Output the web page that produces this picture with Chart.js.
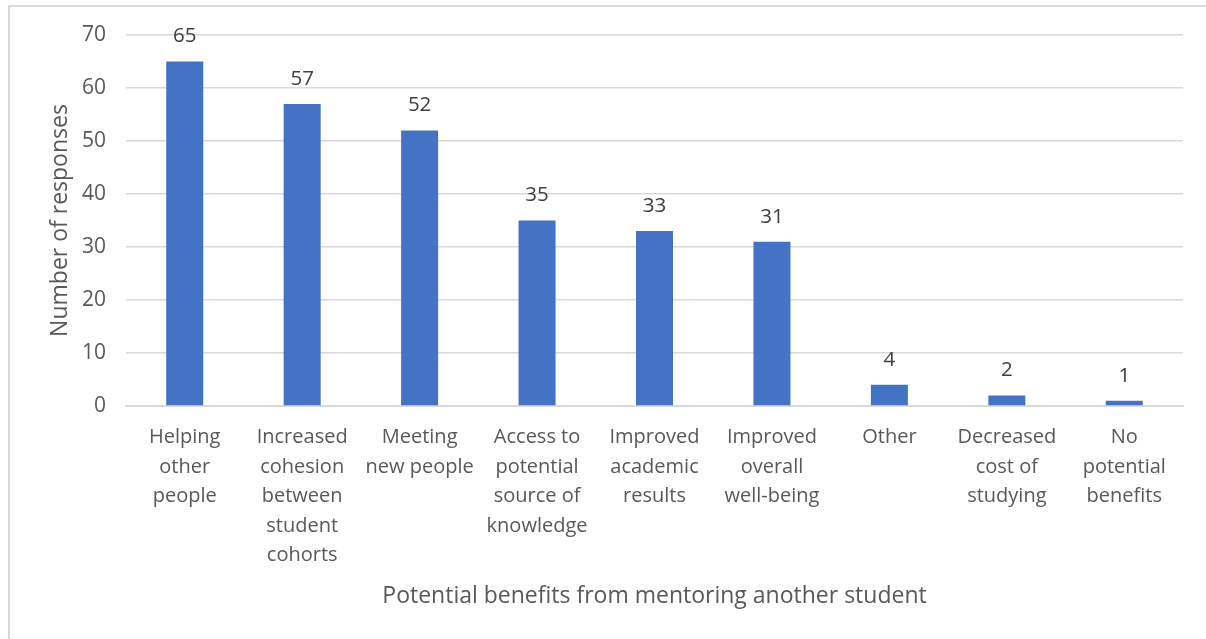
<!DOCTYPE html>
<html>
<head>
<meta charset="utf-8">
<script src="https://cdn.jsdelivr.net/npm/chart.js@4/dist/chart.umd.min.js"></script>
<style>
    html, body { margin: 0; padding: 0; background: #fff; overflow: hidden; }
    #frame {
        position: absolute; left: 8px; top: 5px;
        width: 1400px; height: 800px;
        border: 2px solid #d9d9d9; box-sizing: border-box;
    }
    #wrap { position: absolute; left: 0; top: 0; width: 1206px; height: 639px; }
</style>
</head>
<body>
<div id="frame"></div>
<div id="wrap"><canvas id="chart" width="1206" height="639"></canvas></div>
<script>
// Chart data
const categories = [
    ['Helping', 'other', 'people'],
    ['Increased', 'cohesion', 'between', 'student', 'cohorts'],
    ['Meeting', 'new people'],
    ['Access to', 'potential', 'source of', 'knowledge'],
    ['Improved', 'academic', 'results'],
    ['Improved', 'overall', 'well-being'],
    ['Other'],
    ['Decreased', 'cost of', 'studying'],
    ['No', 'potential', 'benefits']
];
const responses = [65, 57, 52, 35, 33, 31, 4, 2, 1];
const yTicks = [0, 10, 20, 30, 40, 50, 60, 70];

const textColor = '#595959';
const gridColor = '#d9d9d9';
const fontFamily = '"Open Sans", "Noto Sans", sans-serif';

// Value labels above each bar
const valueLabels = {
    id: 'valueLabels',
    afterDatasetsDraw(chart) {
        const ctx = chart.ctx;
        const meta = chart.getDatasetMeta(0);
        ctx.save();
        ctx.font = '20.5px ' + fontFamily;
        ctx.fillStyle = '#404040';
        ctx.textAlign = 'center';
        ctx.textBaseline = 'middle';
        meta.data.forEach((bar, i) => {
            ctx.fillText(String(responses[i]), bar.x, bar.y - 25);
        });
        ctx.restore();
    }
};

new Chart(document.getElementById('chart'), {
    type: 'bar',
    data: {
        labels: categories,
        datasets: [{
            data: responses,
            backgroundColor: '#4472c4',
            categoryPercentage: 1,
            barPercentage: 0.315
        }]
    },
    options: {
        responsive: false,
        animation: false,
        layout: { padding: { top: 35, right: 23, left: 40, bottom: 0 } },
        plugins: {
            legend: { display: false },
            tooltip: { enabled: false }
        },
        scales: {
            x: {
                grid: { display: false, drawTicks: false },
                border: { color: gridColor, width: 2 },
                ticks: {
                    color: textColor,
                    font: { family: fontFamily, size: 20, lineHeight: 1.47 },
                    padding: 17,
                    maxRotation: 0,
                    autoSkip: false
                },
                title: {
                    display: true,
                    text: 'Potential benefits from mentoring another student',
                    color: textColor,
                    font: { family: fontFamily, size: 23 },
                    padding: { top: 0, bottom: 29 }
                },
                afterFit: (scale) => { scale.height = 233; }
            },
            y: {
                min: 0,
                max: 70,
                afterBuildTicks: (scale) => { scale.ticks = yTicks.map(v => ({ value: v })); },
                grid: { color: gridColor, lineWidth: 1.5, drawTicks: false },
                border: { display: false },
                ticks: {
                    color: textColor,
                    font: { family: fontFamily, size: 21 },
                    padding: 20
                },
                title: {
                    display: true,
                    text: 'Number of responses',
                    color: textColor,
                    font: { family: fontFamily, size: 23 },
                    padding: { top: 7, bottom: 0 }
                },
                afterFit: (scale) => { scale.width = 86; }
            }
        }
    },
    plugins: [valueLabels]
});
</script>
</body>
</html>
